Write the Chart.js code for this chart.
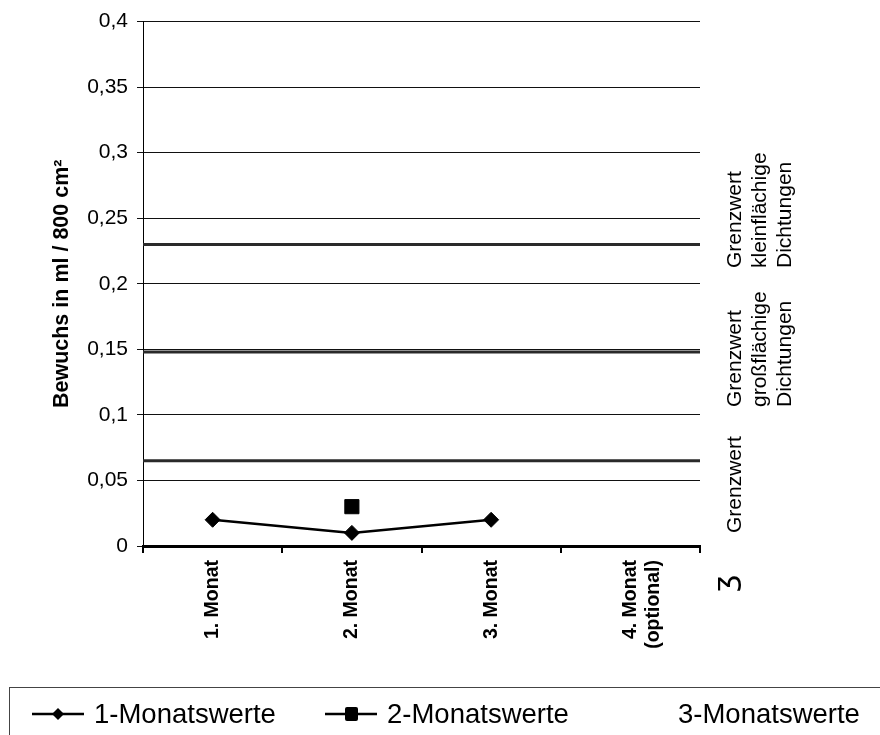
<!DOCTYPE html>
<html>
<head>
<meta charset="utf-8">
<script src="https://cdn.jsdelivr.net/npm/chart.js@4/dist/chart.umd.min.js"></script>
<style>
  html, body { margin: 0; padding: 0; background: #fff; }
  #wrap { position: relative; width: 880px; height: 735px; overflow: hidden; font-family: "Liberation Sans", Arial, sans-serif; }
  #c { position: absolute; left: 0; top: 0; }
  #legend { position: absolute; left: 9px; top: 687px; width: 900px; height: 80px; border: 1.5px solid #444; box-sizing: border-box; }
  .lg-item { position: absolute; top: 0; height: 52px; display: flex; align-items: center; }
  .lg-text { font-size: 27.5px; color: #000; white-space: nowrap; }
</style>
</head>
<body>
<div id="wrap">
  <canvas id="c" width="880" height="735"></canvas>
  <div id="legend"></div>
</div>
<script>
// ---- data ----
const categories = ['1. Monat', '2. Monat', '3. Monat', ['4. Monat', '(optional)']];
const series1 = [0.02, 0.01, 0.02, null];
const series2 = [null, 0.03, null, null];
const series3 = [null, null, null, null];
const seriesNames = ['1-Monatswerte', '2-Monatswerte', '3-Monatswerte'];
const thresholdValues = [0.23, 0.148, 0.065];
const thresholdLabels = [
  ['Grenzwert', 'kleinflächige', 'Dichtungen'],
  ['Grenzwert', 'großflächige', 'Dichtungen'],
  ['Grenzwert']
];
const yTickValues = [0, 0.05, 0.1, 0.15, 0.2, 0.25, 0.3, 0.35, 0.4];
const yTickLabels = ['0', '0,05', '0,1', '0,15', '0,2', '0,25', '0,3', '0,35', '0,4'];
const yTitle = 'Bewuchs in ml / 800 cm²';

// ---- styles / positions ----
const FONT = '"Liberation Sans", Arial, sans-serif';
const PLOT_LEFT = 143, PLOT_BOTTOM = 546, CANVAS_H = 735;
const labelBottoms = [268, 407, 533];   // pixel bottoms of rotated annotation blocks
const labelX = 735, labelLineGap = 25;

const thresholdDatasets = thresholdValues.map(v => ({
  label: 'Grenzwert ' + v,
  data: [{ x: 0, y: v }, { x: categories.length, y: v }],
  xAxisID: 'xl',
  borderColor: '#2a2a2a',
  borderWidth: 3,
  pointRadius: 0,
  fill: false,
  order: 5
}));

const annotationPlugin = {
  id: 'sideLabels',
  afterDraw(chart) {
    const ctx = chart.ctx;
    ctx.save();
    ctx.fillStyle = '#000';
    ctx.font = '21px ' + FONT;
    ctx.textAlign = 'left';
    ctx.textBaseline = 'middle';
    thresholdLabels.forEach((lines, i) => {
      ctx.save();
      ctx.translate(labelX, labelBottoms[i]);
      ctx.rotate(-Math.PI / 2);
      lines.forEach((t, j) => ctx.fillText(t, 0, j * labelLineGap));
      ctx.restore();
    });
    // scribbled mark beside the axis end
    ctx.save();
    ctx.translate(727, 592);
    ctx.rotate(-Math.PI / 2);
    ctx.font = '30px "DejaVu Sans", sans-serif';
    ctx.textBaseline = 'middle';
    ctx.fillText('ʒ', 0, 0);
    ctx.restore();
    ctx.restore();
  }
};

new Chart(document.getElementById('c'), {
  type: 'line',
  data: {
    labels: categories,
    datasets: [
      {
        label: seriesNames[0],
        data: series1,
        borderColor: '#000',
        backgroundColor: '#000',
        borderWidth: 2.5,
        pointStyle: 'rectRot',
        pointRadius: 7.5,
        pointBorderWidth: 1,
        order: 1
      },
      {
        label: seriesNames[1],
        data: series2,
        borderColor: '#000',
        backgroundColor: '#000',
        borderWidth: 2,
        pointStyle: 'rect',
        pointRadius: 10,
        pointBorderWidth: 1,
        order: 1
      },
      {
        label: seriesNames[2],
        data: series3,
        borderColor: '#000',
        backgroundColor: '#000',
        borderWidth: 2,
        pointRadius: 0,
        order: 1
      },
      ...thresholdDatasets
    ]
  },
  options: {
    responsive: false,
    animation: false,
    devicePixelRatio: 1,
    layout: { padding: { left: 0, right: 180, top: 20, bottom: 0 } },
    plugins: { legend: { display: false }, tooltip: { enabled: false } },
    scales: {
      x: {
        type: 'category',
        offset: true,
        grid: { offset: true, drawOnChartArea: false, drawTicks: true, tickLength: 7, color: '#000', lineWidth: 2 },
        border: { display: true, color: '#000', width: 3 },
        ticks: {
          color: '#000',
          font: { family: FONT, size: 19.5, weight: 'bold' },
          maxRotation: 90, minRotation: 90,
          padding: 7,
          autoSkip: false
        },
        afterFit(scale) { scale.height = CANVAS_H - PLOT_BOTTOM; }
      },
      xl: {
        type: 'linear',
        display: false,
        min: 0,
        max: categories.length
      },
      y: {
        type: 'linear',
        min: 0,
        max: 0.4,
        afterBuildTicks(scale) { scale.ticks = yTickValues.map(v => ({ value: v })); },
        grid: { color: '#111', lineWidth: 1, drawTicks: true, tickLength: 6 },
        border: { display: true, color: '#000', width: 1 },
        ticks: {
          color: '#000',
          font: { family: FONT, size: 21 },
          padding: 9,
          callback(value, index) { return yTickLabels[index]; }
        },
        title: {
          display: true,
          text: yTitle,
          color: '#000',
          font: { family: FONT, size: 21.5, weight: 'bold' },
          padding: { top: 49, bottom: 0 }
        },
        afterFit(scale) { scale.width = PLOT_LEFT; }
      }
    }
  },
  plugins: [annotationPlugin]
});

// ---- legend (HTML) ----
const legend = document.getElementById('legend');
const legendItems = [
  { text: seriesNames[0], symLeft: 22, textLeft: 84, marker: 'diamond' },
  { text: seriesNames[1], symLeft: 315, textLeft: 377, marker: 'square' },
  { text: seriesNames[2], symLeft: null, textLeft: 668, marker: null }
];
legendItems.forEach(it => {
  if (it.marker) {
    const svgNS = 'http://www.w3.org/2000/svg';
    const svg = document.createElementNS(svgNS, 'svg');
    svg.setAttribute('width', '52'); svg.setAttribute('height', '20');
    svg.style.position = 'absolute';
    svg.style.left = it.symLeft + 'px';
    svg.style.top = '16px';
    const ln = document.createElementNS(svgNS, 'line');
    ln.setAttribute('x1', '0'); ln.setAttribute('x2', '52');
    ln.setAttribute('y1', '10'); ln.setAttribute('y2', '10');
    ln.setAttribute('stroke', '#000'); ln.setAttribute('stroke-width', '2.5');
    svg.appendChild(ln);
    if (it.marker === 'diamond') {
      const p = document.createElementNS(svgNS, 'polygon');
      p.setAttribute('points', '26,4 32,10 26,16 20,10');
      p.setAttribute('fill', '#000');
      svg.appendChild(p);
    } else {
      const r = document.createElementNS(svgNS, 'rect');
      r.setAttribute('x', '20'); r.setAttribute('y', '3');
      r.setAttribute('width', '13'); r.setAttribute('height', '14');
      r.setAttribute('rx', '2');
      r.setAttribute('fill', '#000');
      svg.appendChild(r);
    }
    legend.appendChild(svg);
  }
  const span = document.createElement('div');
  span.className = 'lg-item';
  span.style.left = it.textLeft + 'px';
  span.innerHTML = '<span class="lg-text"></span>';
  span.firstChild.textContent = it.text;
  legend.appendChild(span);
});
</script>
</body>
</html>
